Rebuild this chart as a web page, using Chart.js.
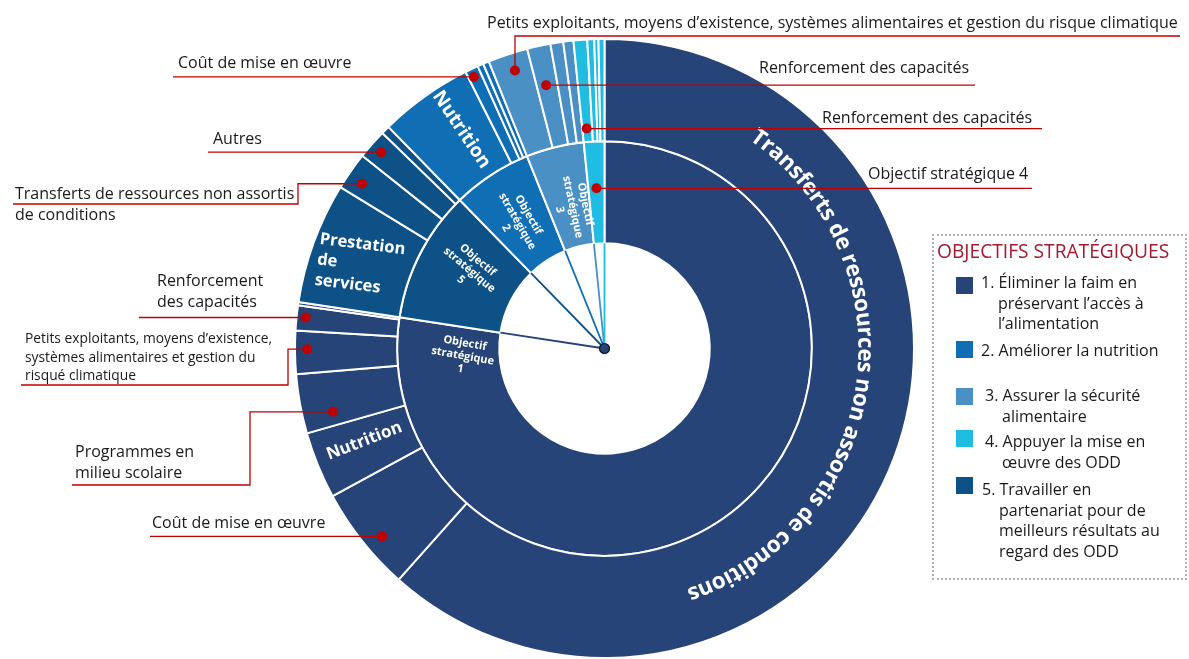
<!DOCTYPE html>
<html lang="fr">
<head>
<meta charset="utf-8">
<script src="https://cdn.jsdelivr.net/npm/chart.js@4.4.0/dist/chart.umd.min.js"></script>
<style>
html, body { margin: 0; padding: 0; background: #fff; overflow: hidden; }
#wrap { position: relative; width: 1189px; height: 659px; font-family: "Open Sans", sans-serif; color: #1a1a1a; }
#box { position: absolute; left: 932px; top: 234px; width: 251px; height: 342px; border: 2px dotted #b0b0b0; }
.ttl { position: absolute; left: 937px; top: 237px; font-size: 19.2px; line-height: 28px; color: #A3192F; white-space: nowrap; }
.sq { position: absolute; left: 956px; width: 17px; height: 17px; }
.txt { position: absolute; font-size: 16px; line-height: 20.5px; white-space: nowrap; }
</style>
</head>
<body>
<div id="wrap">
  <canvas id="myChart"></canvas>
  <div id="box"></div>
</div>
<script>
// objectifs strategiques (ordre du dessin, dans le sens horaire depuis le haut)
const innerLabels = ['Objectif stratégique 1', 'Objectif stratégique 5', 'Objectif stratégique 2', 'Objectif stratégique 3', 'Objectif stratégique 4'];
const innerValues = [77.4, 10.3, 6.2, 4.5, 1.6];
const innerColors = ['#264478', '#0D5186', '#106EB5', '#4A90C4', '#21BCE1'];

// activites (anneau exterieur), parent = index dans innerLabels
const outerLabels = [
    'Transferts de ressources non assortis de conditions',
    'Coût de mise en œuvre',
    'Nutrition',
    'Programmes en milieu scolaire',
    'Petits exploitants, moyens d’existence, systèmes alimentaires et gestion du risque climatique',
    'Renforcement des capacités',
    'Autres',
    'Prestation de services',
    'Transferts de ressources non assortis de conditions',
    'Autres',
    'Renforcement des capacités',
    'Nutrition',
    'Coût de mise en œuvre',
    'Renforcement des capacités',
    'Autres',
    'Petits exploitants, moyens d’existence, systèmes alimentaires et gestion du risque climatique',
    'Renforcement des capacités',
    'Coût de mise en œuvre',
    'Autres',
    'Renforcement des capacités',
    'Coût de mise en œuvre',
    'Prestation de services',
    'Autres'
];
const outerValues = [61.58, 5.5, 3.5, 3.1, 2.25, 1.3, 0.17,
                     6.33, 1.97, 1.56, 0.44,
                     4.89, 0.69, 0.31, 0.31,
                     2.08, 1.22, 0.67, 0.53,
                     0.71, 0.36, 0.22, 0.31];
const outerParent = [0, 0, 0, 0, 0, 0, 0, 1, 1, 1, 1, 2, 2, 2, 2, 3, 3, 3, 3, 4, 4, 4, 4];

// legende
const legendTitle = 'OBJECTIFS STRATÉGIQUES';
const legendLines = [
    ['1. Éliminer la faim en', 'préservant l’accès à', 'l’alimentation'],
    ['2. Améliorer la nutrition'],
    ['3. Assurer la sécurité', 'alimentaire'],
    ['4. Appuyer la mise en', 'œuvre des ODD'],
    ['5. Travailler en', 'partenariat pour de', 'meilleurs résultats au', 'regard des ODD']
];
const legendColors = ['#264478', '#106EB5', '#4A90C4', '#21BCE1', '#0D5186'];

// mise en page de la legende
const legSqTop = [277, 341, 388, 430, 477];
const legTxtTop = [272, 340, 385, 431, 479];
const legTxtLeft = [981, 981, 985, 985, 982];

const wrap = document.getElementById('wrap');
const t = document.createElement('div');
t.className = 'ttl';
t.textContent = legendTitle;
wrap.appendChild(t);
legendLines.forEach(function (lines, k) {
    const sq = document.createElement('div');
    sq.className = 'sq';
    sq.style.top = legSqTop[k] + 'px';
    sq.style.background = legendColors[k];
    wrap.appendChild(sq);
    lines.forEach(function (ln, j) {
        const d = document.createElement('div');
        d.className = 'txt';
        d.style.top = (legTxtTop[k] + j * 20.5) + 'px';
        d.style.left = (legTxtLeft[k] + (j > 0 ? 17 : 0)) + 'px';
        d.textContent = ln;
        wrap.appendChild(d);
    });
});

// etiquettes dans les arcs
const innerText = [
    { idx: 0, f: 0.958, rf: 0.36, rot: 10, lines: ['Objectif', 'stratégique', '1'] },
    { idx: 1, f: 0.58, rf: 0.50, rot: 40, lines: ['Objectif', 'stratégique', '5'] },
    { idx: 2, f: 0.44, rf: 0.48, rot: 60, lines: ['Objectif', 'stratégique', '2'] },
    { idx: 3, f: 0.57, rf: 0.39, rot: 78, lines: ['Objectif', 'stratégique', '3'] }
];
const outerText = [
    { idx: 2, f: 0.59, rf: 0.49, rot: -21, size: 17, lines: ['Nutrition'] },
    { idx: 7, f: 0.45, rf: 0.50, rot: 7, size: 16.5, lines: ['Prestation', 'de', 'services'], left: true },
    { idx: 11, f: 0.63, rf: 0.53, rot: 56, size: 19, lines: ['Nutrition'] }
];

// legendes avec traits rouges
const callouts = [
    { ring: 0, idx: 15, f: 0.55, rf: 0.83, path: [[null, 36], [1180, 36]], x: 487, y: 28, size: 16,
      lines: ['Petits exploitants, moyens d’existence, systèmes alimentaires et gestion du risque climatique'] },
    { ring: 0, idx: 16, f: 0.45, rf: 0.61, path: [[975, null]], x: 759, y: 73, size: 16, lines: ['Renforcement des capacités'] },
    { ring: 0, idx: 19, f: 0.44, rf: 0.13, path: [[1042, null]], x: 822, y: 123, size: 16, lines: ['Renforcement des capacités'] },
    { ring: 1, idx: 4, f: 0.5, rf: 0.54, path: [[1032, null]], x: 868, y: 179, size: 16, lines: ['Objectif stratégique 4'] },
    { ring: 0, idx: 12, f: 0.4, rf: 0.92, path: [[173, null]], x: 178, y: 68, size: 16, lines: ['Coût de mise en œuvre'] },
    { ring: 0, idx: 9, f: 0.5, rf: 0.88, path: [[208, null]], x: 213, y: 144, size: 16, lines: ['Autres'] },
    { ring: 0, idx: 8, f: 0.39, rf: 0.84, path: [[298, null], [298, 204], [13, 204]], x: 15, y: 199, size: 16,
      lines: ['Transferts de ressources non assortis', 'de conditions'] },
    { ring: 0, idx: 5, f: 0.55, rf: 0.91, path: [[139, null]], x: 157, y: 286, size: 16, lines: ['Renforcement', 'des capacités'] },
    { ring: 0, idx: 4, f: 0.57, rf: 0.88, path: [[288, null], [288, 385], [21, 385]], x: 25, y: 343, size: 13.8, lh: 18.5,
      lines: ['Petits exploitants, moyens d’existence,', 'systèmes alimentaires et gestion du', 'risqué climatique'] },
    { ring: 0, idx: 3, f: 0.25, rf: 0.70, path: [[250, null], [250, 485], [72, 485]], x: 75, y: 457, size: 16,
      lines: ['Programmes en', 'milieu scolaire'] },
    { ring: 0, idx: 1, f: 0.41, rf: 0.82, path: [[150, null]], x: 152, y: 528, size: 16, lines: ['Coût de mise en œuvre'] }
];

const FONT = '"Open Sans", sans-serif';

function at(arc, f, rf) {
    const a = arc.startAngle + f * (arc.endAngle - arc.startAngle);
    const r = arc.innerRadius + rf * (arc.outerRadius - arc.innerRadius);
    return { x: arc.x + r * Math.cos(a), y: arc.y + r * Math.sin(a) };
}

function textBlock(ctx, p, rot, lines, font, lh, left) {
    ctx.save();
    ctx.translate(p.x, p.y);
    ctx.rotate(rot * Math.PI / 180);
    ctx.font = font;
    ctx.fillStyle = '#fff';
    ctx.textBaseline = 'middle';
    let w = 0;
    lines.forEach(l => { w = Math.max(w, ctx.measureText(l).width); });
    ctx.textAlign = left ? 'left' : 'center';
    const y0 = -(lines.length - 1) * lh / 2;
    lines.forEach((l, j) => ctx.fillText(l, left ? -w / 2 : 0, y0 + j * lh));
    ctx.restore();
}

function curvedText(ctx, text, cx, cy, r, mid, span, weight) {
    // taille ajustee pour couvrir l'angle voulu
    ctx.font = weight + ' 22px ' + FONT;
    const size = 22 * (span * r) / ctx.measureText(text).width;
    ctx.font = weight + ' ' + size.toFixed(2) + 'px ' + FONT;
    ctx.fillStyle = '#fff';
    ctx.textAlign = 'center';
    ctx.textBaseline = 'middle';
    const total = ctx.measureText(text).width;
    let a = mid - total / 2 / r;
    for (const ch of text) {
        const w = ctx.measureText(ch).width;
        ctx.save();
        ctx.translate(cx, cy);
        ctx.rotate(a + w / 2 / r);
        ctx.fillText(ch, 0, -r);
        ctx.restore();
        a += w / r;
    }
}

const sunburstText = {
    id: 'sunburstText',
    afterDatasetsDraw(chart) {
        const ctx = chart.ctx;
        const outer = chart.getDatasetMeta(0).data;
        const inner = chart.getDatasetMeta(1).data;
        const cx = inner[0].x, cy = inner[0].y;

        // rayons au centre
        inner.forEach((arc, k) => {
            ctx.beginPath();
            ctx.moveTo(cx, cy);
            ctx.lineTo(cx + arc.innerRadius * Math.cos(arc.endAngle), cy + arc.innerRadius * Math.sin(arc.endAngle));
            ctx.strokeStyle = innerColors[k];
            ctx.lineWidth = 1.8;
            ctx.stroke();
        });
        ctx.beginPath();
        ctx.arc(cx, cy, 5, 0, Math.PI * 2);
        ctx.fillStyle = innerColors[0];
        ctx.fill();
        ctx.strokeStyle = '#111';
        ctx.lineWidth = 1.2;
        ctx.stroke();

        innerText.forEach(it => {
            textBlock(ctx, at(inner[it.idx], it.f, it.rf), it.rot, it.lines, 'bold 11px ' + FONT, 13);
        });
        outerText.forEach(it => {
            textBlock(ctx, at(outer[it.idx], it.f, it.rf), it.rot, it.lines, 'bold ' + it.size + 'px ' + FONT, it.size * 1.25, it.left);
        });

        // grand texte courbe
        const big = outer[0];
        const rMid = (big.innerRadius + big.outerRadius) / 2 + 2;
        const midTop = big.startAngle + 0.442 * (big.endAngle - big.startAngle) + Math.PI / 2;
        curvedText(ctx, outerLabels[0], cx, cy, rMid, midTop, 126.5 * Math.PI / 180, 'bold');

        // legendes rouges
        callouts.forEach(c => {
            const arc = (c.ring === 0 ? outer : inner)[c.idx];
            const p = at(arc, c.f, c.rf);
            ctx.strokeStyle = '#C00000';
            ctx.lineWidth = 1.3;
            ctx.beginPath();
            ctx.moveTo(p.x, p.y);
            c.path.forEach(pt => ctx.lineTo(pt[0] === null ? p.x : pt[0], pt[1] === null ? p.y : pt[1]));
            ctx.stroke();
            ctx.beginPath();
            ctx.arc(p.x, p.y, 5, 0, Math.PI * 2);
            ctx.fillStyle = '#C00000';
            ctx.fill();
            ctx.font = c.size + 'px ' + FONT;
            ctx.fillStyle = '#1a1a1a';
            ctx.textAlign = 'left';
            ctx.textBaseline = 'alphabetic';
            const lh = c.lh || 21;
            c.lines.forEach((l, j) => ctx.fillText(l, c.x, c.y + j * lh));
        });
    }
};

const ctx = document.getElementById('myChart').getContext('2d');
const chart = new Chart(ctx, {
    type: 'doughnut',
    data: {
        labels: outerLabels,
        datasets: [{
            label: 'Activités',
            data: outerValues,
            backgroundColor: outerParent.map(k => innerColors[k]),
            borderColor: '#fff',
            borderWidth: 2
        }, {
            label: 'Objectifs stratégiques',
            data: innerValues,
            backgroundColor: innerColors,
            borderColor: '#fff',
            borderWidth: 2
        }]
    },
    options: {
        responsive: true,
        maintainAspectRatio: false,
        animation: false,
        events: [],
        cutout: '34%',
        layout: { padding: { left: 294, right: 274, top: 38, bottom: 0 } },
        plugins: {
            legend: { display: false },
            tooltip: { enabled: false }
        }
    },
    plugins: [sunburstText]
});
</script>
</body>
</html>
